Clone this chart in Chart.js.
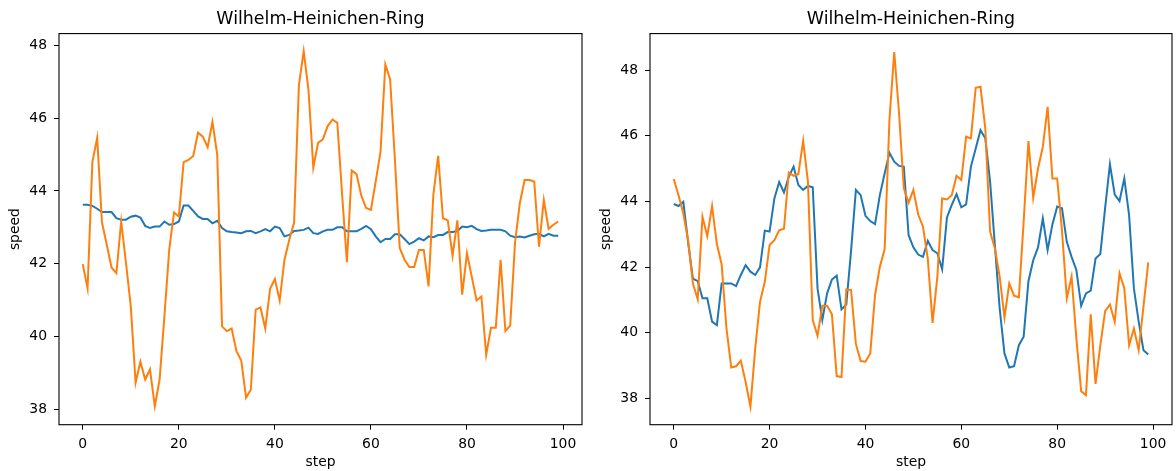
<!DOCTYPE html>
<html>
<head>
<meta charset="utf-8">
<script src="https://cdn.jsdelivr.net/npm/chart.js@4/dist/chart.umd.min.js"></script>
<style>
  body { margin: 0; background: #fff; }
  canvas { position: absolute; top: 0; }
  #left { left: 0; }
  #right { left: 588px; }
</style>
</head>
<body>
<canvas id="left" width="588" height="471"></canvas>
<canvas id="right" width="588" height="471"></canvas>
<script>
// data
const steps = Array.from({length: 100}, (_, i) => i);
const xTicks = [0, 20, 40, 60, 80, 100];
const yTicks = [38, 40, 42, 44, 46, 48];
const chartTitle = "Wilhelm-Heinichen-Ring";

const leftBlue = [
  43.62, 43.62, 43.59, 43.51, 43.42, 43.42, 43.42, 43.25, 43.21, 43.21,
  43.29, 43.32, 43.27, 43.04, 42.98, 43.02, 43.02, 43.16, 43.07, 43.09,
  43.16, 43.60, 43.60, 43.45, 43.30, 43.23, 43.23, 43.11, 43.18, 42.98,
  42.89, 42.87, 42.86, 42.84, 42.89, 42.90, 42.84, 42.89, 42.95, 42.89,
  43.02, 42.98, 42.75, 42.79, 42.90, 42.91, 42.93, 42.99, 42.84, 42.82,
  42.89, 42.93, 42.93, 43.00, 43.00, 42.89, 42.89, 42.89, 42.96, 43.04,
  42.95, 42.75, 42.59, 42.68, 42.68, 42.81, 42.81, 42.68, 42.54, 42.61,
  42.70, 42.64, 42.75, 42.73, 42.79, 42.79, 42.87, 42.87, 42.90, 43.02,
  43.00, 43.04, 42.95, 42.90, 42.91, 42.93, 42.93, 42.93, 42.89, 42.77,
  42.73, 42.75, 42.72, 42.77, 42.81, 42.82, 42.75, 42.82, 42.77, 42.77
];
const leftOrange = [
  41.99, 41.32, 44.79, 45.46, 43.13, 42.52, 41.89, 41.74, 43.16, 42.02,
  40.83, 38.73, 39.31, 38.82, 39.10, 38.09, 38.82, 40.56, 42.38, 43.41,
  43.30, 44.79, 44.85, 44.96, 45.60, 45.49, 45.20, 45.90, 44.99, 40.28,
  40.15, 40.22, 39.60, 39.34, 38.32, 38.55, 40.74, 40.80, 40.22, 41.31,
  41.58, 40.99, 42.11, 42.66, 43.13, 46.90, 47.84, 46.77, 44.64, 45.32,
  45.42, 45.78, 45.96, 45.87, 43.90, 42.04, 44.56, 44.46, 43.87, 43.53,
  43.48, 44.26, 45.08, 47.47, 47.06, 44.85, 42.43, 42.11, 41.91, 41.91,
  42.38, 42.38, 41.38, 43.89, 44.96, 43.25, 43.19, 42.22, 43.19, 41.15,
  42.29, 41.64, 40.99, 41.10, 39.50, 40.24, 40.24, 42.11, 40.15, 40.30,
  42.57, 43.66, 44.30, 44.30, 44.26, 42.47, 43.75, 42.96, 43.07, 43.16
];
const rightBlue = [
  43.92, 43.86, 43.99, 42.75, 41.65, 41.57, 41.05, 41.05, 40.34, 40.23,
  41.50, 41.50, 41.50, 41.42, 41.76, 42.06, 41.86, 41.76, 41.99, 43.11,
  43.08, 44.09, 44.59, 44.27, 44.75, 45.06, 44.50, 44.35, 44.47, 44.43,
  41.35, 40.39, 41.20, 41.62, 41.74, 40.71, 40.86, 42.50, 44.35, 44.19,
  43.56, 43.40, 43.31, 44.19, 44.85, 45.48, 45.21, 45.08, 45.06, 42.97,
  42.60, 42.38, 42.31, 42.80, 42.52, 42.42, 41.93, 43.51, 43.89, 44.22,
  43.82, 43.91, 45.06, 45.61, 46.17, 45.92, 44.60, 42.67, 40.74, 39.37,
  38.94, 38.98, 39.62, 39.88, 41.57, 42.21, 42.60, 43.48, 42.52, 43.30,
  43.84, 43.79, 42.77, 42.31, 41.91, 40.82, 41.20, 41.28, 42.26, 42.40,
  43.80, 45.13, 44.21, 44.01, 44.70, 43.58, 41.35, 40.34, 39.47, 39.34
];
const rightOrange = [
  44.68, 44.19, 43.63, 42.82, 41.50, 41.02, 43.53, 42.94, 43.86, 42.70,
  42.08, 40.13, 38.94, 38.98, 39.15, 38.50, 37.75, 39.52, 40.94, 41.55,
  42.67, 42.82, 43.12, 43.17, 44.88, 44.78, 44.83, 45.84, 44.60, 40.39,
  39.91, 40.82, 40.82, 40.56, 38.68, 38.65, 41.32, 41.30, 39.66, 39.14,
  39.12, 39.37, 41.15, 42.01, 42.54, 46.48, 48.55, 46.70, 44.40, 43.96,
  44.35, 43.60, 43.23, 42.26, 40.30, 41.71, 44.09, 44.06, 44.19, 44.78,
  44.65, 45.97, 45.92, 47.46, 47.49, 46.22, 43.08, 42.57, 41.71, 40.46,
  41.50, 41.13, 41.08, 43.38, 45.84, 44.11, 45.00, 45.66, 46.88, 44.70,
  44.70, 43.10, 41.05, 41.71, 39.83, 38.22, 38.10, 40.56, 38.44, 39.62,
  40.66, 40.86, 40.33, 41.81, 41.35, 39.62, 40.13, 39.47, 40.80, 42.14
];

const BLUE = "#1f77b4";
const ORANGE = "#ff7f0e";
const FONT = "DejaVu Sans";

// matplotlib style box round the plot area
const frame = {
  id: "frame",
  afterDatasetsDraw(chart) {
    const {ctx, chartArea: a} = chart;
    ctx.save();
    ctx.strokeStyle = "#000";
    ctx.lineWidth = 1.1;
    ctx.strokeRect(a.left, a.top, a.right - a.left, a.bottom - a.top);
    ctx.restore();
  }
};

function series(values) {
  return steps.map((s, i) => ({x: s, y: values[i]}));
}

function makeChart(id, blue, orange, o) {
  const tickFont = {family: FONT, size: 13.9};
  return new Chart(document.getElementById(id), {
    type: "line",
    data: {
      datasets: [
        {data: series(blue), borderColor: BLUE, borderWidth: 2, pointRadius: 0, order: 1},
        {data: series(orange), borderColor: ORANGE, borderWidth: 2, pointRadius: 0, order: 0}
      ]
    },
    options: {
      responsive: false,
      animation: false,
      events: [],
      layout: {padding: {left: 0, right: o.padRight, top: 0, bottom: 0}},
      plugins: {
        legend: {display: false},
        tooltip: {enabled: false},
        title: {
          display: true,
          text: chartTitle,
          fullSize: false,
          color: "#000",
          font: {family: FONT, size: 17.4, weight: "normal", lineHeight: 1.2},
          padding: {top: 9.5, bottom: 3.2}
        }
      },
      scales: {
        x: {
          type: "linear",
          min: -4.95,
          max: 103.95,
          afterBuildTicks: s => { s.ticks = xTicks.map(v => ({value: v})); },
          afterFit: s => { s.height = o.xAxisH; },
          border: {display: false},
          grid: {drawOnChartArea: false, tickLength: 5, color: "#000", tickColor: "#000"},
          ticks: {color: "#000", font: tickFont, padding: 6, maxRotation: 0},
          title: {display: true, text: "step", color: "#000", font: tickFont, padding: {top: 0, bottom: 0}}
        },
        y: {
          min: o.yMin,
          max: o.yMax,
          afterBuildTicks: s => { s.ticks = yTicks.map(v => ({value: v})); },
          afterFit: s => { s.width = o.yAxisW; },
          border: {display: false},
          grid: {drawOnChartArea: false, tickLength: 5, color: "#000", tickColor: "#000"},
          ticks: {color: "#000", font: tickFont, padding: 7},
          title: {display: true, text: "speed", color: "#000", font: tickFont, padding: {top: o.yTitlePad, bottom: 0}}
        }
      }
    },
    plugins: [frame]
  });
}

makeChart("left", leftBlue, leftOrange,
  {yMin: 37.58, yMax: 48.32, yAxisW: 59, xAxisH: 46.3, padRight: 6, yTitlePad: 6.7});
makeChart("right", rightBlue, rightOrange,
  {yMin: 37.2, yMax: 49.11, yAxisW: 62, xAxisH: 46.3, padRight: 4, yTitlePad: 9.7});
</script>
</body>
</html>
